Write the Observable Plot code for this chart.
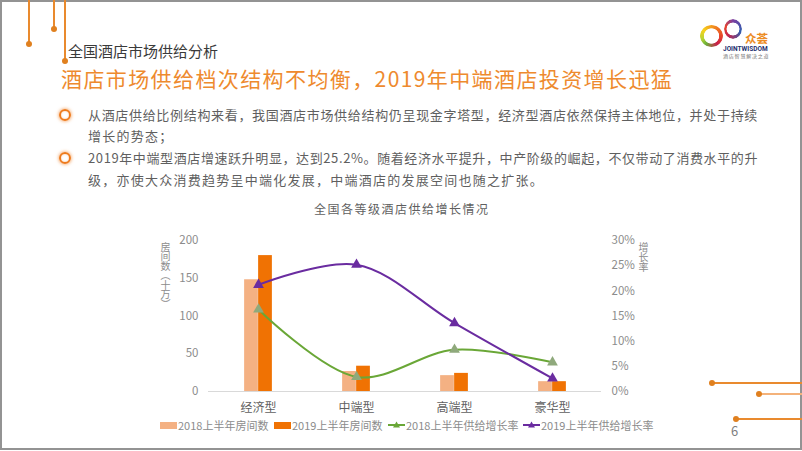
<!DOCTYPE html>
<html><head><meta charset="utf-8">
<script src="https://cdn.jsdelivr.net/npm/d3@7"></script>
<script src="https://cdn.jsdelivr.net/npm/@observablehq/plot@0.6"></script>
<style>
html,body{margin:0;padding:0;background:#fff;}
body{width:802px;height:451px;overflow:hidden;position:relative;font-family:"Noto Sans CJK SC","Noto Sans",sans-serif;}
.abs{position:absolute;white-space:nowrap;}
.frame{position:absolute;left:0;top:0;width:798px;height:446px;border:2px solid #939393;pointer-events:none;}
.vline{position:absolute;width:1.5px;background:#e98a2e;top:0;}
.hline{position:absolute;height:1.5px;background:#e98a2e;right:0;}
.dot{position:absolute;width:6px;height:6px;border-radius:50%;background:#e0801f;}
.bullet{position:absolute;width:8px;height:8px;border-radius:50%;border:2.5px solid #ee7a1c;box-shadow:0 0 3px 1px rgba(240,140,60,0.55), inset 0 0 2px rgba(240,140,60,0.5);}
.para{position:absolute;left:88px;font-size:13px;line-height:16px;color:#5f5f5f;white-space:nowrap;letter-spacing:1.25px;}
.leg{position:absolute;top:418px;font-size:11px;line-height:14px;color:#8c8c8c;white-space:nowrap;}
.ring{position:absolute;border-radius:50%;-webkit-mask:radial-gradient(circle, transparent 46%, #000 50%);mask:radial-gradient(circle, transparent 46%, #000 50%);}
#chart{position:absolute;left:0;top:0;}
</style></head><body>
<div id="chart"></div>
<script>
// ---- data ----
const categories = ["经济型", "中端型", "高端型", "豪华型"];
const rooms2018 = [148, 26.5, 21, 13];     // 房间数（十万）
const rooms2019 = [180, 33.5, 24, 13];
const growth2018 = [0.163, 0.029, 0.083, 0.058]; // 供给增长率
const growth2019 = [0.212, 0.252, 0.136, 0.026];
const leftTicks = [0, 50, 100, 150, 200];
const rightTicks = [0, 0.05, 0.10, 0.15, 0.20, 0.25, 0.30];
const seriesNames = ["2018上半年房间数", "2019上半年房间数", "2018上半年供给增长率", "2019上半年供给增长率"];

const C18 = "#f4b183", C19 = "#f07203", G = "#6aa737", GM = "#8fa97c", P = "#6a2ca0";
const yMax = 200, rMax = 0.30;
const toY = r => r * yMax / rMax;

const bars18 = categories.map((c, i) => ({cat: c, v: rooms2018[i]}));
const bars19 = categories.map((c, i) => ({cat: c, v: rooms2019[i]}));
const line18 = categories.map((c, i) => ({cat: c, v: toY(growth2018[i])}));
const line19 = categories.map((c, i) => ({cat: c, v: toY(growth2019[i])}));

const W = 802, H = 451, mL = 208, mR = 201, mT = 240, mB = 60;
const bw = (W - mL - mR) / categories.length;
const barW = 14;

const chart = Plot.plot({
  width: W, height: H,
  marginLeft: mL, marginRight: mR, marginTop: mT, marginBottom: mB,
  style: {background: "transparent", color: "#8c8c8c", fontFamily: '"Noto Sans CJK SC", sans-serif', fontSize: "11.5px", overflow: "visible"},
  x: {domain: categories, padding: 0, axis: null},
  y: {domain: [0, yMax], axis: null},
  marks: [
    Plot.ruleY([0], {stroke: "#d9d9d9", strokeWidth: 1}),
    Plot.barY(bars18, {x: "cat", y: "v", fill: C18, insetLeft: bw / 2 - barW, insetRight: bw / 2}),
    Plot.barY(bars19, {x: "cat", y: "v", fill: C19, insetLeft: bw / 2, insetRight: bw / 2 - barW}),
    Plot.axisY({anchor: "left", ticks: leftTicks, tickSize: 0, tickPadding: 10, label: null, color: "#8c8c8c"}),
    Plot.axisY({anchor: "right", ticks: rightTicks.map(toY), tickSize: 0, tickPadding: 10, label: null, color: "#8c8c8c",
      tickFormat: d => Math.round(d * rMax / yMax * 100) + "%"}),
    Plot.axisX({tickSize: 0, tickPadding: 12, label: null, color: "#5f5f5f", fontSize: 12}),
    Plot.line(line18, {x: "cat", y: "v", stroke: G, strokeWidth: 2, curve: "catmull-rom"}),
    Plot.line(line19, {x: "cat", y: "v", stroke: P, strokeWidth: 2, curve: "catmull-rom"}),
    Plot.dot(line18, {x: "cat", y: "v", symbol: "triangle", r: 4, fill: GM, stroke: null}),
    Plot.dot(line19, {x: "cat", y: "v", symbol: "triangle", r: 4, fill: P, stroke: null})
  ]
});
document.getElementById("chart").appendChild(chart);

function add(html) { document.body.insertAdjacentHTML("beforeend", html); }

// frame and decorations
add('<div class="frame"></div>');
add('<div class="vline" style="left:28px;height:44px"></div><div class="dot" style="left:26px;top:41px"></div>');
add('<div class="vline" style="left:53px;height:29px"></div><div class="dot" style="left:51px;top:26px"></div>');
add('<div class="vline" style="left:64px;height:61px"></div><div class="dot" style="left:62px;top:58px"></div>');
add('<div class="hline" style="left:712px;top:382px"></div><div class="dot" style="left:709px;top:380px"></div>');
add('<div class="hline" style="left:759px;top:393px;background:#f4b27a"></div><div class="dot" style="left:756px;top:391px"></div>');
add('<div class="hline" style="left:736px;top:418px"></div><div class="dot" style="left:733px;top:416px"></div>');
add('<div class="abs" style="left:731px;top:421px;font-size:13px;color:#7f7f7f">6</div>');

// titles
add('<div class="abs" style="left:68px;top:43px;font-size:15px;line-height:16px;color:#3a3a3a">全国酒店市场供给分析</div>');
add('<div class="abs" style="left:61px;top:67px;font-size:21px;line-height:22px;color:#ee8a2e;letter-spacing:1.4px">酒店市场供给档次结构不均衡，2019年中端酒店投资增长迅猛</div>');

// logo
add('<div class="ring" style="left:700px;top:25px;width:23px;height:22px;background:conic-gradient(#f39a1e,#e8452a 25%,#c81e4a 40%,#6bb23a 60%,#b8d334 70%,#f6d21d 85%,#f39a1e)"></div>');
add('<div class="ring" style="left:724px;top:19px;width:18px;height:20px;background:conic-gradient(#7b3fa0,#2e5fb0 30%,#c4264d 60%,#e8432c 80%,#7b3fa0)"></div>');
add('<div class="abs" style="left:745px;top:32px;font-size:11.5px;line-height:12px;font-weight:bold;color:#ec8b22">众荟</div>');
add('<div class="abs" style="left:723px;top:46px;font-size:6.5px;line-height:6px;font-weight:bold;color:#1d2f6f;font-family:Roboto,sans-serif">JOINTWISDOM</div>');
add('<div class="abs" style="left:723px;top:53px;font-size:5px;line-height:5px;color:#777;letter-spacing:0.8px">酒店智慧解决之道</div>');

// bullets
add('<div class="bullet" style="left:59px;top:109px"></div>');
add('<div class="bullet" style="left:59px;top:152px"></div>');
const paras = [
  ["从酒店供给比例结构来看，我国酒店市场供给结构仍呈现金字塔型，经济型酒店依然保持主体地位，并处于持续", 107, true],
  ["增长的势态；", 128, false],
  ["2019年中端型酒店增速跃升明显，达到25.2%。随着经济水平提升，中产阶级的崛起，不仅带动了消费水平的升", 150, true],
  ["级，亦使大众消费趋势呈中端化发展，中端酒店的发展空间也随之扩张。", 172, false]
];
paras.forEach(([t, top, fit], i) => {
  add(`<div class="para" id="p${i}" style="top:${top}px">${t}</div>`);
  if (fit) {
    const el = document.getElementById("p" + i);
    el.style.letterSpacing = "0px";
    const w = el.getBoundingClientRect().width;
    const n = [...t].length;
    el.style.letterSpacing = ((670 - w) / n) + "px";
  }
});

// chart title & axis titles
add('<div class="abs" style="left:314px;top:202px;font-size:12px;line-height:14px;color:#5f5f5f;letter-spacing:1.5px">全国各等级酒店供给增长情况</div>');
add('<div class="abs" style="left:160px;top:242px;font-size:10px;line-height:11px;color:#8c8c8c;writing-mode:vertical-rl;letter-spacing:-0.5px">房间数（十万）</div>');
add('<div class="abs" style="left:638px;top:242px;font-size:10px;line-height:11px;color:#8c8c8c;writing-mode:vertical-rl">增长率</div>');

// legend
const tri = c => `<svg width="17" height="10" style="position:absolute;left:0;top:2px"><line x1="0" y1="5" x2="17" y2="5" stroke="${c}" stroke-width="2"/><path d="M8.5,1.5 L12,7.5 L5,7.5 Z" fill="${c}"/></svg>`;
add(`<div class="leg" style="left:160px"><span style="position:absolute;left:0;top:4px;width:17px;height:7px;background:${C18}"></span><span style="margin-left:18px">${seriesNames[0]}</span></div>`);
add(`<div class="leg" style="left:274px"><span style="position:absolute;left:0;top:4px;width:17px;height:7px;background:${C19}"></span><span style="margin-left:18px">${seriesNames[1]}</span></div>`);
add(`<div class="leg" style="left:388px">${tri(G)}<span style="margin-left:18px">${seriesNames[2]}</span></div>`);
add(`<div class="leg" style="left:523px">${tri(P)}<span style="margin-left:18px">${seriesNames[3]}</span></div>`);
</script>
</body></html>
